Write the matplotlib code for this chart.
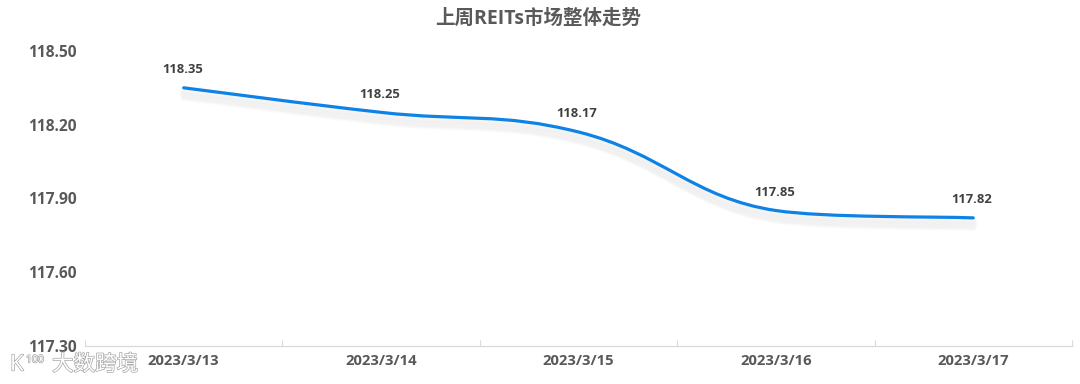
import matplotlib
matplotlib.use('Agg')
import matplotlib.pyplot as plt
import matplotlib.patheffects as pe
from matplotlib.path import Path
from matplotlib.patches import PathPatch

plt.rcParams['font.family'] = ['Open Sans', 'Noto Sans CJK SC', 'DejaVu Sans']

dates = ['2023/3/13', '2023/3/14', '2023/3/15', '2023/3/16', '2023/3/17']
values = [118.35, 118.25, 118.17, 117.85, 117.82]
y_ticks = [117.30, 117.60, 117.90, 118.20, 118.50]

TEXT = '#595959'
LABEL = '#404040'
BLUE = '#0f82e6'


def slope(xs, ys, i):
    # central slope, held back next to a nearly flat segment
    a = max(i - 1, 0)
    b = min(i + 1, len(xs) - 1)
    m = (ys[b] - ys[a]) / (xs[b] - xs[a])
    if 0 < i < len(xs) - 1:
        limit = 4 * min(abs(ys[i] - ys[a]), abs(ys[b] - ys[i]))
        if abs(m) > limit:
            m = limit if m > 0 else -limit
    return m


def control(xs, ys, i, j, k):
    # handle of point i towards point j, shortened so it stays inside the segment
    a = max(i - 1, 0)
    b = min(i + 1, len(xs) - 1)
    sign = 1 if j > i else -1
    dx = (xs[b] - xs[a]) * k / 2 * sign
    dy = slope(xs, ys, i) * dx
    room = abs(ys[j] - ys[i])
    if abs(dy) > room:
        s = room / abs(dy)
        dx, dy = dx * s, dy * s
    return (xs[i] + dx, ys[i] + dy)


def smooth_path(xs, ys, k=0.42):
    verts = [(xs[0], ys[0])]
    codes = [Path.MOVETO]
    for i in range(len(xs) - 1):
        verts += [control(xs, ys, i, i + 1, k), control(xs, ys, i + 1, i, k), (xs[i + 1], ys[i + 1])]
        codes += [Path.CURVE4, Path.CURVE4, Path.CURVE4]
    return Path(verts, codes)


fig = plt.figure(figsize=(10.8, 3.84), dpi=100)
ax = fig.add_axes([85 / 1080, 1 - 345.5 / 384, 987 / 1080, 294.5 / 384])

x = list(range(len(dates)))
ax.set_xlim(-0.5, 4.5)
ax.set_ylim(117.30, 118.50)

# soft shadow under the line, then the line
shadow = [pe.SimpleLineShadow(offset=(0, -o), shadow_color='#000000', alpha=0.012, linewidth=w)
          for o, w in [(2, 5), (3, 5), (4, 6), (5, 6), (6, 5), (7, 4), (8, 3)]]
ax.add_patch(PathPatch(smooth_path(x, values), fill=False, edgecolor=BLUE, linewidth=2.3,
                       capstyle='round', zorder=3, path_effects=shadow + [pe.Normal()]))

for xi, v in zip(x, values):
    ax.annotate('%.2f' % v, (xi, v), xytext=(-1, 8.5), textcoords='offset points', ha='center', va='bottom',
                fontsize=9.4, fontweight='bold', color=LABEL, zorder=4)

for s in ['top', 'right', 'left']:
    ax.spines[s].set_visible(False)
ax.spines['bottom'].set_color('#d9d9d9')
ax.spines['bottom'].set_linewidth(0.9)

ax.set_xticks(x)
ax.set_xticklabels(dates)
ax.set_xticks([i - 0.5 for i in range(len(dates) + 1)], minor=True)
ax.tick_params(axis='x', which='minor', length=4, width=0.8, color='#d9d9d9', direction='in')
ax.tick_params(axis='x', which='major', length=0, pad=6, labelsize=10.7, labelcolor=TEXT)
ax.set_yticks(y_ticks)
ax.set_yticklabels(['%.2f' % t for t in y_ticks])
ax.tick_params(axis='y', length=0, pad=6, labelsize=11.2, labelcolor=TEXT)
for t in ax.get_xticklabels() + ax.get_yticklabels():
    t.set_fontweight('bold')

fig.text(538 / 1080, 1 - 19 / 384, '上周REITs市场整体走势', ha='center', va='center',
         fontsize=14, fontweight='bold', color=TEXT)

# watermark
mark = [pe.withStroke(linewidth=1.0, foreground='#a6a6a6')]
fig.text(10 / 1080, 1 - 365 / 384, 'K', fontsize=16, color='white', va='center', path_effects=mark, zorder=5)
fig.text(26 / 1080, 1 - 360 / 384, '100', fontsize=7.5, color='white', va='center', path_effects=mark, zorder=5)
fig.text(52 / 1080, 1 - 365 / 384, '大数跨境', fontsize=15.5, color='white', va='center',
         path_effects=mark, zorder=5)

fig.savefig('out.png', dpi=100)
